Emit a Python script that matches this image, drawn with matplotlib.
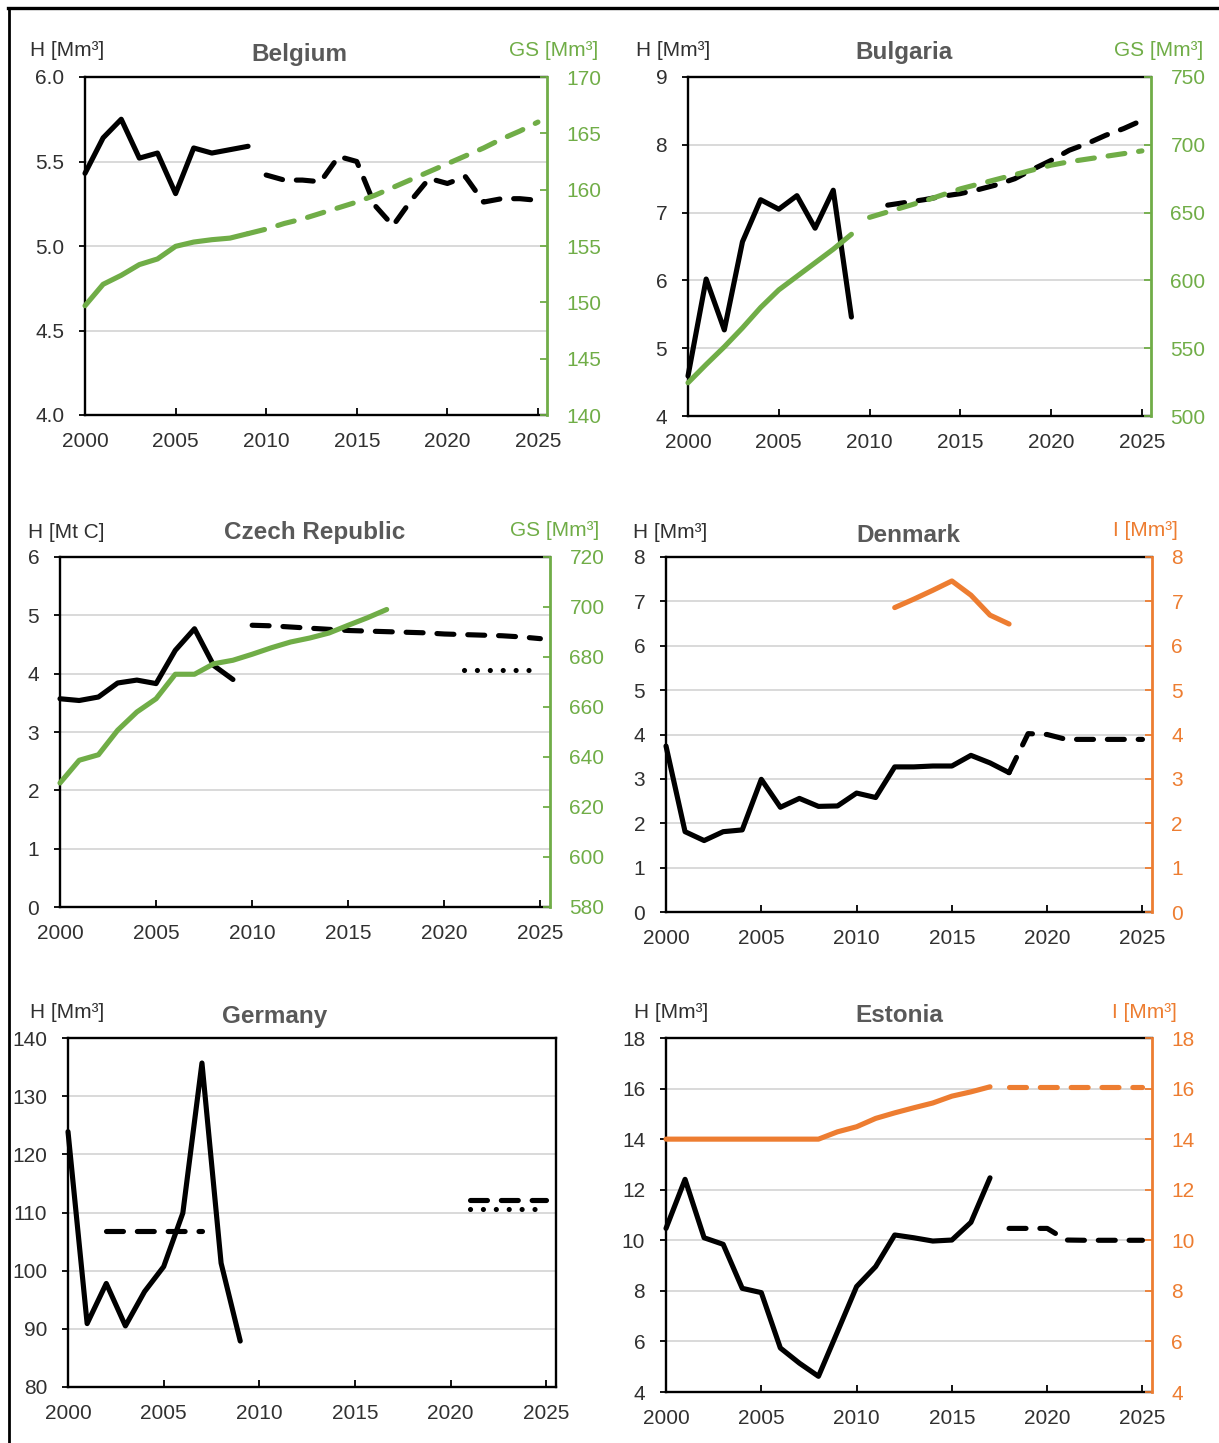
import numpy as np
import matplotlib
matplotlib.use('Agg')
import matplotlib.pyplot as plt
from matplotlib.lines import Line2D
from matplotlib.ticker import FormatStrFormatter

plt.rcParams['font.family'] = ['Liberation Sans', 'DejaVu Sans']

W, H = 1219, 1443
GREEN = '#70AD47'
ORANGE = '#ED7D31'
TITLE_C = '#595959'
TXT = '#303030'

# ---------------- data ----------------
# Belgium
be_h_years = list(range(2000, 2010))
be_h = [5.43, 5.64, 5.75, 5.52, 5.55, 5.31, 5.58, 5.55, 5.57, 5.59]
be_hp_years = list(range(2010, 2026))
be_hp = [5.42, 5.39, 5.39, 5.38, 5.53, 5.50, 5.24, 5.12, 5.27, 5.40, 5.37, 5.41, 5.26, 5.28, 5.28, 5.27]
be_gs_years = list(range(2000, 2010))
be_gs = [149.7, 151.6, 152.4, 153.35, 153.85, 154.97, 155.35, 155.56, 155.7, 156.1]
be_gsp_years = list(range(2009, 2026))
be_gsp = [156.1, 156.5, 157.0, 157.4, 157.9, 158.4, 158.9, 159.5, 160.2, 160.9, 161.6, 162.3,
          163.0, 163.7, 164.5, 165.2, 166.0]

# Bulgaria
bg_h_years = list(range(2000, 2010))
bg_h = [4.59, 6.02, 5.27, 6.57, 7.19, 7.05, 7.25, 6.77, 7.33, 5.46]
bg_hp_years = list(range(2011, 2026))
bg_hp = [7.11, 7.15, 7.19, 7.24, 7.28, 7.34, 7.41, 7.50, 7.64, 7.77, 7.92, 8.02, 8.14, 8.24, 8.36]
bg_gs_years = list(range(2000, 2010))
bg_gs = [524.5, 538, 551, 565, 580, 593, 603, 613, 623, 634]
bg_gsp_years = list(range(2010, 2026))
bg_gsp = [646.5, 650.5, 654.5, 658.5, 663, 667.5, 671, 674.5, 678, 681.5, 685,
          687.5, 689.5, 691.5, 693.5, 695.5]

# Czech Republic
cz_h_years = list(range(2000, 2010))
cz_h = [3.57, 3.54, 3.60, 3.84, 3.89, 3.83, 4.40, 4.77, 4.14, 3.90]
cz_hp_years = list(range(2010, 2026))
cz_hp = [4.83, 4.82, 4.80, 4.78, 4.76, 4.74, 4.73, 4.72, 4.71, 4.70, 4.68, 4.67, 4.66, 4.65, 4.63, 4.60]
cz_hd_years = list(range(2021, 2026))
cz_hd = [4.07, 4.07, 4.07, 4.07, 4.07]
cz_gs_years = list(range(2000, 2018))
cz_gs = [629.6, 638.7, 640.9, 650.7, 658.0, 663.3, 673.1, 673.1, 677.3, 678.7, 681.1, 683.7,
         686.0, 687.6, 689.6, 692.7, 695.7, 699.0]

# Denmark
dk_h_years = list(range(2000, 2019))
dk_h = [3.74, 1.81, 1.61, 1.81, 1.85, 2.99, 2.36, 2.56, 2.38, 2.39, 2.68, 2.58, 3.27, 3.27,
        3.29, 3.29, 3.53, 3.36, 3.14]
dk_hp_years = list(range(2018, 2026))
dk_hp = [3.14, 4.02, 4.0, 3.89, 3.89, 3.89, 3.89, 3.89]
dk_i_years = list(range(2012, 2019))
dk_i = [6.86, 7.05, 7.25, 7.46, 7.14, 6.69, 6.49]

# Germany
de_h_years = list(range(2000, 2010))
de_h = [123.9, 90.9, 97.8, 90.5, 96.4, 100.7, 109.9, 135.7, 101.3, 87.9]
de_hp1_years = [2002, 2007]
de_hp1 = [106.8, 106.8]
de_hp2_years = [2021, 2025]
de_hp2 = [112.2, 112.2]
de_hd_years = [2021, 2025]
de_hd = [110.6, 110.6]

# Estonia
ee_h_years = list(range(2000, 2018))
ee_h = [10.47, 12.41, 10.10, 9.84, 8.10, 7.93, 5.74, 5.14, 4.62, 6.39, 8.17, 8.96, 10.21,
        10.10, 9.97, 10.01, 10.71, 12.47]
ee_hp_years = list(range(2018, 2026))
ee_hp = [10.47, 10.47, 10.47, 10.01, 10.0, 10.0, 10.0, 10.0]
ee_i_years = list(range(2000, 2018))
ee_i = [14.0, 14.0, 14.0, 14.0, 14.0, 14.0, 14.0, 14.0, 14.0, 14.29, 14.49, 14.82, 15.04,
        15.24, 15.43, 15.70, 15.87, 16.07]
ee_ip_years = list(range(2018, 2026))
ee_ip = [16.07, 16.07, 16.07, 16.07, 16.07, 16.07, 16.07, 16.07]

x_ticks = [2000, 2005, 2010, 2015, 2020, 2025]

# ---------------- figure ----------------
fig = plt.figure(figsize=(W / 100, H / 100), dpi=100)
fig.patch.set_facecolor('white')

FS = 15
LW = 3.7


def make_axes(l, r, t, b, ylim, yticks, fmt=None):
    ax = fig.add_axes([l / W, 1 - b / H, (r - l) / W, (b - t) / H])
    ax.set_xlim(2000, 2025.5)
    ax.set_ylim(*ylim)
    ax.set_xticks(x_ticks)
    ax.set_yticks(yticks)
    if fmt:
        ax.yaxis.set_major_formatter(FormatStrFormatter(fmt))
    ax.grid(axis='y', color='#D9D9D9', lw=1.4)
    ax.set_axisbelow(True)
    ax.tick_params(axis='x', direction='in', length=5, width=1.3, pad=12,
                   labelsize=FS, labelcolor=TXT)
    ax.tick_params(axis='y', direction='out', length=4, width=1.3, pad=11,
                   labelsize=FS, labelcolor=TXT)
    for s in ax.spines.values():
        s.set_linewidth(1.7)
        s.set_color('black')
    return ax


def make_twin(ax, ylim, yticks, color):
    ax.spines['right'].set_visible(False)
    ax2 = ax.twinx()
    ax2.set_ylim(*ylim)
    ax2.set_yticks(yticks)
    ax2.tick_params(axis='y', direction='in', length=5, width=1.3, colors=color,
                    labelcolor=color, pad=14, labelsize=FS)
    for k, s in ax2.spines.items():
        if k == 'right':
            s.set_color(color)
            s.set_linewidth(2.0)
        else:
            s.set_visible(False)
    return ax2


def plot(ax, x, y, color='black', style='solid'):
    kw = dict(color=color, lw=LW, solid_joinstyle='round', solid_capstyle='round',
              dash_capstyle='round', dash_joinstyle='round', clip_on=False)
    if style == 'dash':
        kw['dashes'] = (3.3, 2.7)
    elif style == 'dot':
        kw['dashes'] = (0.01, 2.5)
    ax.plot(x, y, **kw)


def labels(title, tx, ty, lx, ly, ltxt, rx=None, ry=None, rtxt=None, rcolor=None):
    fig.text(tx / W, 1 - ty / H, title, ha='center', va='center', fontsize=17.5,
             fontweight='bold', color=TITLE_C)
    fig.text(lx / W, 1 - ly / H, ltxt, ha='left', va='center', fontsize=FS, color=TXT)
    if rtxt:
        fig.text(rx / W, 1 - ry / H, rtxt, ha='right', va='center', fontsize=FS, color=rcolor)


# Belgium
ax = make_axes(85, 547, 77, 415, (4.0, 6.0), [4.0, 4.5, 5.0, 5.5, 6.0], '%.1f')
a2 = make_twin(ax, (140, 170), list(range(140, 171, 5)), GREEN)
plot(ax, be_h_years, be_h)
plot(ax, be_hp_years, be_hp, style='dash')
plot(a2, be_gs_years, be_gs, GREEN)
plot(a2, be_gsp_years, be_gsp, GREEN, 'dash')
labels('Belgium', 299, 54, 30, 51, 'H [Mm³]', 598, 50, 'GS [Mm³]', GREEN)

# Bulgaria
ax = make_axes(688, 1151, 77, 416, (4, 9), list(range(4, 10)))
a2 = make_twin(ax, (500, 750), list(range(500, 751, 50)), GREEN)
plot(ax, bg_h_years, bg_h)
plot(ax, bg_hp_years, bg_hp, style='dash')
plot(a2, bg_gs_years, bg_gs, GREEN)
plot(a2, bg_gsp_years, bg_gsp, GREEN, 'dash')
labels('Bulgaria', 904, 53, 636, 51, 'H [Mm³]', 1203, 50, 'GS [Mm³]', GREEN)

# Czech Republic
ax = make_axes(60, 550, 557, 907, (0, 6), list(range(0, 7)))
a2 = make_twin(ax, (580, 720), list(range(580, 721, 20)), GREEN)
plot(ax, cz_h_years, cz_h)
plot(ax, cz_hp_years, cz_hp, style='dash')
plot(ax, cz_hd_years, cz_hd, style='dot')
plot(a2, cz_gs_years, cz_gs, GREEN)
labels('Czech Republic', 315, 533, 28, 532, 'H [Mt C]', 599, 530, 'GS [Mm³]', GREEN)

# Denmark
ax = make_axes(666, 1152, 557, 912, (0, 8), list(range(0, 9)))
a2 = make_twin(ax, (0, 8), list(range(0, 9)), ORANGE)
plot(ax, dk_h_years, dk_h)
plot(ax, dk_hp_years, dk_hp, style='dash')
plot(a2, dk_i_years, dk_i, ORANGE)
labels('Denmark', 908, 535, 633, 532, 'H [Mm³]', 1178, 530, 'I [Mm³]', ORANGE)

# Germany
ax = make_axes(68, 556, 1038, 1387, (80, 140), list(range(80, 141, 10)))
plot(ax, de_h_years, de_h)
plot(ax, de_hp1_years, de_hp1, style='dash')
plot(ax, de_hp2_years, de_hp2, style='dash')
plot(ax, de_hd_years, de_hd, style='dot')
labels('Germany', 275, 1016, 30, 1013, 'H [Mm³]')

# Estonia
ax = make_axes(666, 1152, 1038, 1392, (4, 18), list(range(4, 19, 2)))
a2 = make_twin(ax, (4, 18), list(range(4, 19, 2)), ORANGE)
plot(ax, ee_h_years, ee_h)
plot(ax, ee_hp_years, ee_hp, style='dash')
plot(a2, ee_i_years, ee_i, ORANGE)
plot(a2, ee_ip_years, ee_ip, ORANGE, 'dash')
labels('Estonia', 899, 1016, 634, 1013, 'H [Mm³]', 1177, 1012, 'I [Mm³]', ORANGE)

# outer frame lines
fig.add_artist(Line2D([8 / W, 1.0], [1 - 8 / H, 1 - 8 / H], color='black', lw=2.4,
                      transform=fig.transFigure))
fig.add_artist(Line2D([9 / W, 9 / W], [0.0, 1 - 8 / H], color='black', lw=2.0,
                      transform=fig.transFigure))

fig.savefig('out.png', dpi=100, facecolor='white')
